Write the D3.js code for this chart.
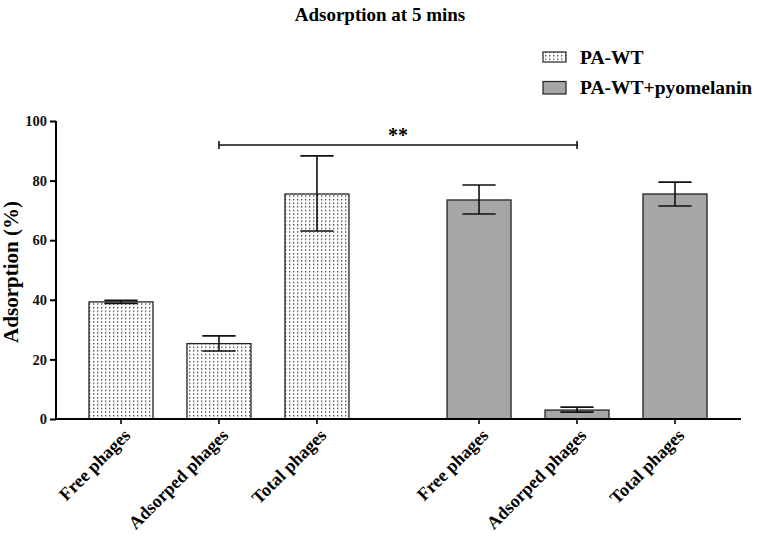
<!DOCTYPE html>
<html><head><meta charset="utf-8">
<script src="https://cdn.jsdelivr.net/npm/d3@7"></script>
<style>body{margin:0;background:#fff}svg{display:block}text{font-family:"Liberation Serif","Times New Roman",serif;font-weight:bold}</style>
</head><body><svg id="c" width="761" height="536"></svg>
<script>
const groups = ["PA-WT", "PA-WT+pyomelanin"];
const categories = ["Free phages", "Adsorped phages", "Total phages"];
const wtValues = [39.3, 25.3, 75.5];
const wtErrLow = [38.8, 22.8, 63.1];
const wtErrHigh = [39.8, 27.9, 88.3];
const pyValues = [73.5, 3.0, 75.5];
const pyErrLow = [68.8, 2.3, 71.5];
const pyErrHigh = [78.5, 4.0, 79.5];
const yTicks = [0, 20, 40, 60, 80, 100];
const sigLabel = "**";

const svg = d3.select("#c");
const defs = svg.append("defs");
const pat = defs.append("pattern").attr("id","dots").attr("patternUnits","userSpaceOnUse")
  .attr("width",4).attr("height",3.6);
pat.append("rect").attr("width",4).attr("height",3.6).attr("fill","#fff");
pat.append("rect").attr("x",1).attr("y",1).attr("width",1.3).attr("height",1.3).attr("fill","#333");

const y = d3.scaleLinear().domain([0,100]).range([419,121]);
const xg = d3.scaleBand().domain(groups).range([72,724]).paddingInner(0.179).paddingOuter(0);
const xi = d3.scaleBand().domain(categories).range([0, xg.bandwidth()]).paddingInner(0.347).paddingOuter(0.1735);

const data = [];
categories.forEach((c,i)=>{
  data.push({g:groups[0],c,v:wtValues[i],lo:wtErrLow[i],hi:wtErrHigh[i]});
});
categories.forEach((c,i)=>{
  data.push({g:groups[1],c,v:pyValues[i],lo:pyErrLow[i],hi:pyErrHigh[i]});
});
const cx = d => xg(d.g) + xi(d.c) + xi.bandwidth()/2;

// title
svg.append("text").attr("x",380).attr("y",21).attr("text-anchor","middle")
  .attr("font-size",19).text("Adsorption at 5 mins");

// bars
svg.selectAll("rect.bar").data(data).join("rect").attr("class","bar")
  .attr("x", d=>xg(d.g)+xi(d.c)).attr("width", xi.bandwidth())
  .attr("y", d=>y(d.v)).attr("height", d=>y(0)-y(d.v))
  .attr("fill", d=> d.g===groups[0] ? "url(#dots)" : "#a6a6a6")
  .attr("stroke","#222").attr("stroke-width",1.3);

// error bars
const cap = xi.bandwidth()*0.26;
const eb = svg.append("g").attr("stroke","#111").attr("stroke-width",1.6);
data.forEach(d=>{
  const x = cx(d);
  eb.append("line").attr("x1",x).attr("x2",x).attr("y1",y(d.lo)).attr("y2",y(d.hi));
  eb.append("line").attr("x1",x-cap).attr("x2",x+cap).attr("y1",y(d.hi)).attr("y2",y(d.hi));
  eb.append("line").attr("x1",x-cap).attr("x2",x+cap).attr("y1",y(d.lo)).attr("y2",y(d.lo));
});

// y axis
const ya = svg.append("g").attr("transform","translate(56,0)")
  .call(d3.axisLeft(y).tickValues(yTicks).tickSize(6).tickPadding(3));
ya.select(".domain").attr("stroke-width",2).attr("d","M-0,"+y(100)+"V"+y(0));
ya.selectAll(".tick line").attr("stroke-width",2);
ya.selectAll(".tick text").attr("font-size",14.5).attr("fill","#111");

// x axis
const xa = svg.append("g").attr("transform","translate(0,"+y(0)+")");
xa.append("line").attr("x1",55).attr("x2",741).attr("y1",0).attr("y2",0).attr("stroke","#000").attr("stroke-width",2.2);
data.forEach(d=>{
  const x = cx(d);
  xa.append("line").attr("x1",x).attr("x2",x).attr("y1",0).attr("y2",5).attr("stroke","#000").attr("stroke-width",1.6);
  xa.append("text").attr("transform","translate("+(x+6)+",13) rotate(-45)")
    .attr("text-anchor","end").attr("dy","0.35em").attr("font-size",18).text(d.c);
});

// y label
svg.append("text").attr("transform","translate(18,272) rotate(-90)")
  .attr("text-anchor","middle").attr("font-size",21).text("Adsorption (%)");

// significance
const s1 = cx(data[1]), s2 = cx(data[4]), sy = 145;
const sg = svg.append("g").attr("stroke","#111").attr("stroke-width",1.6);
sg.append("line").attr("x1",s1).attr("x2",s2).attr("y1",sy).attr("y2",sy);
sg.append("line").attr("x1",s1).attr("x2",s1).attr("y1",sy-4).attr("y2",sy+4);
sg.append("line").attr("x1",s2).attr("x2",s2).attr("y1",sy-4).attr("y2",sy+4);
svg.append("text").attr("x",(s1+s2)/2).attr("y",142).attr("text-anchor","middle")
  .attr("font-size",20).attr("font-family","DejaVu Sans").text(sigLabel);

// legend
const lg = svg.append("g");
groups.forEach((g,i)=>{
  const yy = 52 + i*29.5;
  lg.append("rect").attr("x",543).attr("y",yy).attr("width",23).attr("height",i===0?10:12.5)
    .attr("fill", i===0 ? "url(#dots)" : "#a6a6a6").attr("stroke","#222").attr("stroke-width",1.2);
  lg.append("text").attr("x",580).attr("y",yy+12).attr("font-size",19.5).text(g);
});
</script></body></html>
